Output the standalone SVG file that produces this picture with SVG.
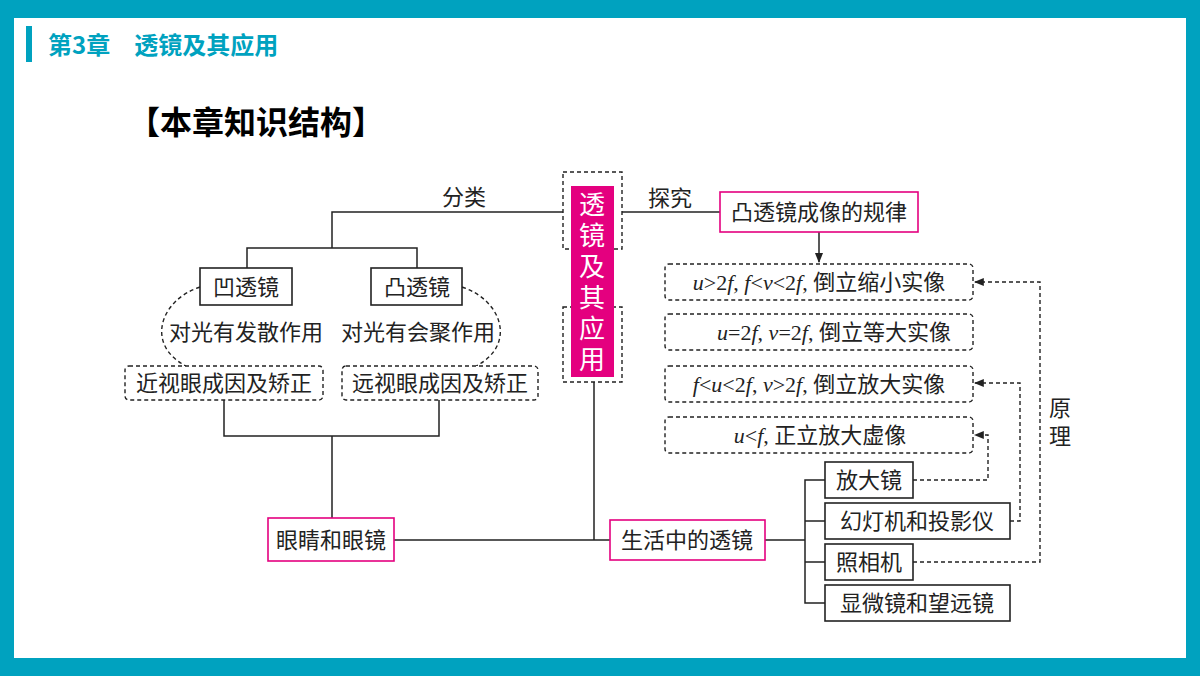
<svg xmlns="http://www.w3.org/2000/svg" width="1200" height="676" viewBox="0 0 1200 676">
<defs>
<style>
text{font-family:"Liberation Serif","Noto Sans CJK SC",serif;font-size:22px;fill:#222}
.c{text-anchor:middle}
.b{fill:#fff;stroke:#222;stroke-width:1.6}
.p{fill:#fff;stroke:#e4007f;stroke-width:1.6}
.d{fill:#fff;stroke:#222;stroke-width:1.4;stroke-dasharray:4 3}
.l{fill:none;stroke:#222;stroke-width:1.5}
.dl{fill:none;stroke:#222;stroke-width:1.4;stroke-dasharray:4 3}
.i{font-style:italic}
</style>
<marker id="a" viewBox="0 0 10 10" refX="9" refY="5" markerWidth="7" markerHeight="7" orient="auto"><path d="M0,1 L10,5 L0,9 Z" fill="#222"/></marker>
</defs>
<rect width="1200" height="676" fill="#00a2bf"/>
<rect x="14" y="18" width="1172" height="640" fill="#fff"/>
<rect x="26" y="26" width="6" height="36" fill="#00a2bf"/>
<text x="48" y="54" style="font-family:'Noto Sans CJK SC',sans-serif;font-size:24px;font-weight:bold;fill:#00a2bf">第3章　透镜及其应用</text>
<text x="128" y="134" style="font-family:'Noto Sans CJK SC',sans-serif;font-size:32px;font-weight:bold;fill:#000">【本章知识结构】</text>

<g id="connectors">
<path class="l" d="M563,212 H332 V248 M247,268 V248 H417 V268"/>
<path class="l" d="M622,212 H720"/>
<path class="l" d="M819,232 V262" marker-end="url(#a)"/>
<path class="l" d="M224,400 V436 H439 V400 M332,436 V518"/>
<path class="l" d="M394,540 H610 M594,382 V540"/>
<path class="l" d="M765,540 H805 M825,480 H805 V603 H825 M805,521 H825 M805,562 H825"/>
<path class="dl" d="M200,287 C160,300 145,345 186,366"/>
<path class="dl" d="M462,287 C502,300 517,345 476,366"/>
<path class="dl" d="M913,480 H988 V435 H975" marker-end="url(#a)"/>
<path class="dl" d="M1010,521 H1020 V383 H975" marker-end="url(#a)"/>
<path class="dl" d="M913,562 H1040 V282 H975" marker-end="url(#a)"/>
<text x="1060" y="416" class="c">原</text>
<text x="1060" y="444" class="c">理</text>
<text x="464" y="205" class="c">分类</text>
<text x="670" y="206" class="c">探究</text>
</g>

<g id="center">
<rect x="563" y="172" width="59" height="77" class="d" style="fill:none"/>
<rect x="563" y="307" width="59" height="75" class="d" style="fill:none"/>
<rect x="571" y="186" width="43" height="191" fill="#e4007f"/>
<text x="592" y="214" class="c" style="fill:#fff;font-size:26px">透</text>
<text x="592" y="245" class="c" style="fill:#fff;font-size:26px">镜</text>
<text x="592" y="276" class="c" style="fill:#fff;font-size:26px">及</text>
<text x="592" y="307" class="c" style="fill:#fff;font-size:26px">其</text>
<text x="592" y="338" class="c" style="fill:#fff;font-size:26px">应</text>
<text x="592" y="369" class="c" style="fill:#fff;font-size:26px">用</text>
</g>
<g id="rule"><rect x="720" y="192" width="198" height="40" class="p"/><text x="819" y="220" class="c">凸透镜成像的规律</text></g>
<g id="c1"><rect x="665" y="264" width="308" height="36" rx="4" class="d"/><text x="819" y="290" class="c"><tspan class="i">u</tspan>&gt;2<tspan class="i">f</tspan>, <tspan class="i">f</tspan>&lt;<tspan class="i">v</tspan>&lt;2<tspan class="i">f</tspan>, 倒立缩小实像</text></g>
<g id="c2"><rect x="665" y="314" width="308" height="36" rx="4" class="d"/><text x="834" y="340" class="c"><tspan class="i">u</tspan>=2<tspan class="i">f</tspan>, <tspan class="i">v</tspan>=2<tspan class="i">f</tspan>, 倒立等大实像</text></g>
<g id="c3"><rect x="665" y="366" width="308" height="36" rx="4" class="d"/><text x="819" y="392" class="c"><tspan class="i">f</tspan>&lt;<tspan class="i">u</tspan>&lt;2<tspan class="i">f</tspan>, <tspan class="i">v</tspan>&gt;2<tspan class="i">f</tspan>, 倒立放大实像</text></g>
<g id="c4"><rect x="665" y="417" width="308" height="36" rx="4" class="d"/><text x="820" y="443" class="c"><tspan class="i">u</tspan>&lt;<tspan class="i">f</tspan>, 正立放大虚像</text></g>
<g id="concave"><rect x="200" y="268" width="92" height="37" class="b"/><text x="246" y="295" class="c">凹透镜</text></g>
<g id="convex"><rect x="371" y="268" width="91" height="37" class="b"/><text x="417" y="295" class="c">凸透镜</text></g>
<text x="246" y="340" class="c">对光有发散作用</text>
<text x="418" y="340" class="c">对光有会聚作用</text>
<g id="myopia"><rect x="125" y="366" width="198" height="34" rx="4" class="d"/><text x="224" y="391" class="c">近视眼成因及矫正</text></g>
<g id="hyper"><rect x="342" y="366" width="196" height="34" rx="4" class="d"/><text x="440" y="391" class="c">远视眼成因及矫正</text></g>
<g id="eye"><rect x="268" y="518" width="126" height="43" class="p"/><text x="331" y="548" class="c">眼睛和眼镜</text></g>
<g id="life"><rect x="610" y="520" width="155" height="40" class="p"/><text x="687" y="548" class="c">生活中的透镜</text></g>
<g id="mag"><rect x="825" y="462" width="88" height="36" class="b"/><text x="869" y="488" class="c">放大镜</text></g>
<g id="proj"><rect x="825" y="503" width="185" height="36" class="b"/><text x="917" y="529" class="c">幻灯机和投影仪</text></g>
<g id="cam"><rect x="825" y="544" width="88" height="36" class="b"/><text x="869" y="570" class="c">照相机</text></g>
<g id="scope"><rect x="825" y="585" width="185" height="36" class="b"/><text x="917" y="611" class="c">显微镜和望远镜</text></g>
</svg>
